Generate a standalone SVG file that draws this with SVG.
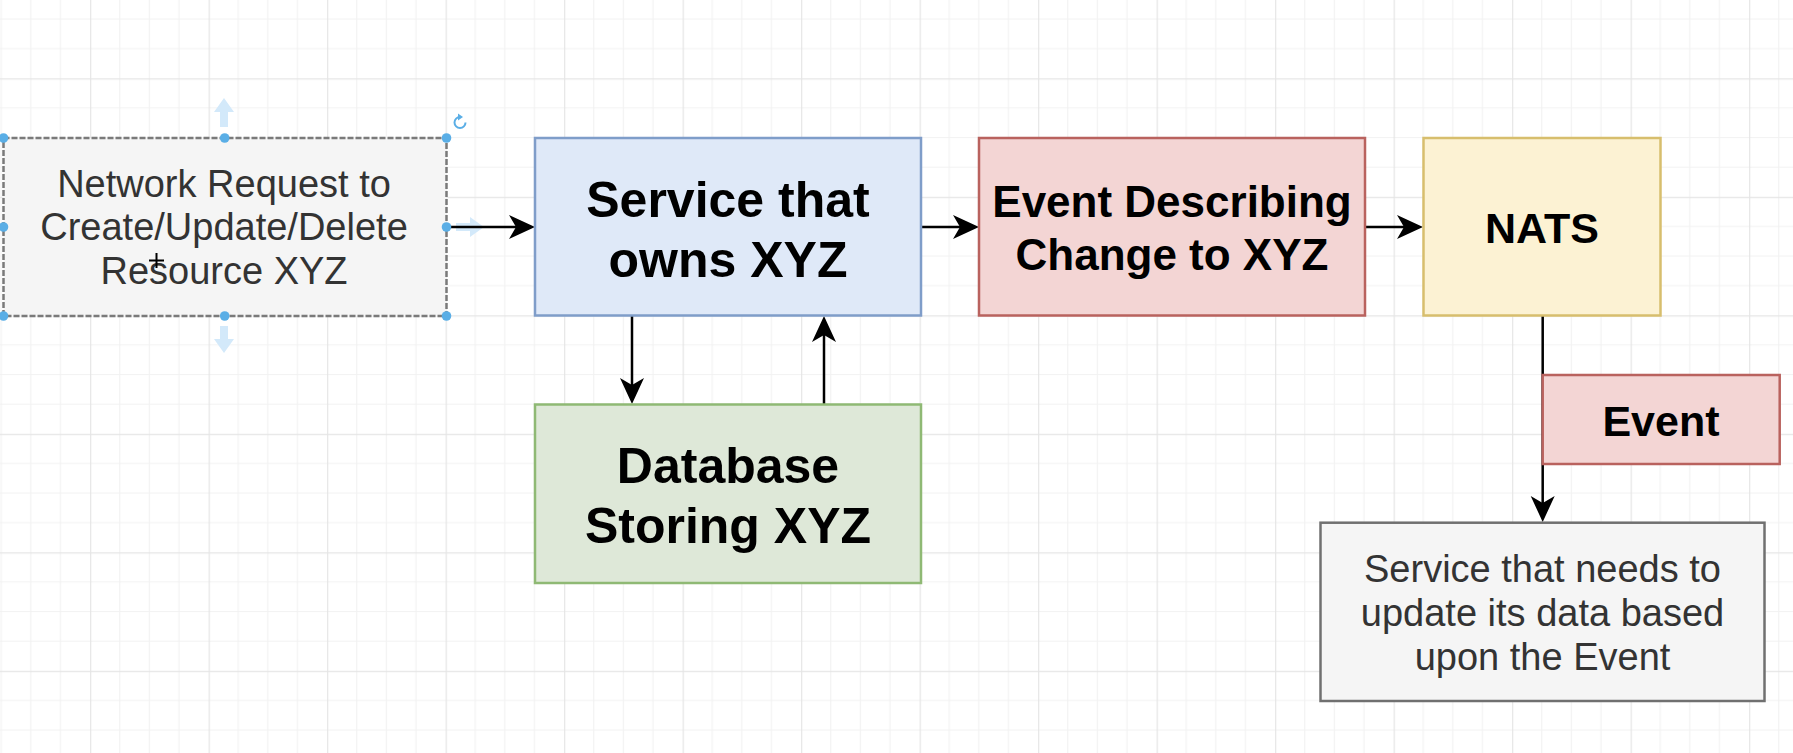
<svg xmlns="http://www.w3.org/2000/svg" width="1793" height="753" viewBox="0 0 1793 753">
<style>
.box{stroke-width:2.5}
.lbl{font-family:"Liberation Sans",Arial,Helvetica,sans-serif;text-anchor:middle}
.reg{fill:#333333}
.bold{font-weight:bold;fill:#000000}
.edge{stroke:#000000;stroke-width:2.5;fill:none}
.handle{fill:#5aaee6}
.hover{fill:#d3e9fa}
</style>
<defs>
<pattern id="grid" patternUnits="userSpaceOnUse" x="90.1" y="78.3" width="118.5" height="118.5">
<path d="M29.625 0V118.5M59.25 0V118.5M88.875 0V118.5M0 29.625H118.5M0 59.25H118.5M0 88.875H118.5" stroke="#f2f2f2" stroke-width="1.2" fill="none"/>
<path d="M0.6 0V118.5M0 0.6H118.5" stroke="#e5e5e5" stroke-width="1.2" fill="none"/>
</pattern>
<marker id="ah" viewBox="-27 -13 28 26" refX="-14" refY="0" markerWidth="28" markerHeight="26" markerUnits="userSpaceOnUse" orient="auto">
<path d="M0,0 L-26,-12 L-19,0 L-26,12 Z" fill="#000000"/>
</marker>
</defs>
<rect width="1793" height="753" fill="#ffffff"/>
<rect width="1793" height="753" fill="url(#grid)"/>

<g id="hover-hints">
<path class="hover" d="M224 98 L234 112 L228 112 L228 127 L220 127 L220 112 L214 112 Z"/>
<path class="hover" d="M224 353 L234 339 L228 339 L228 326 L220 326 L220 339 L214 339 Z"/>
<path class="hover" d="M484 227 L470 217 L470 223 L456 223 L456 231 L470 231 L470 237 Z"/>
</g>

<g id="connectors">
<line class="edge" x1="447" y1="227" x2="521" y2="227" marker-end="url(#ah)"/>
<line class="edge" x1="921" y1="227" x2="965" y2="227" marker-end="url(#ah)"/>
<line class="edge" x1="1365" y1="227" x2="1409" y2="227" marker-end="url(#ah)"/>
<line class="edge" x1="632" y1="316" x2="632" y2="390" marker-end="url(#ah)"/>
<line class="edge" x1="824" y1="404" x2="824" y2="330" marker-end="url(#ah)"/>
<line class="edge" x1="1542.7" y1="316" x2="1542.7" y2="508" marker-end="url(#ah)"/>
</g>

<g id="network-request">
<rect class="box" x="3.5" y="138" width="443" height="178" fill="#f5f5f5" stroke="#7a7a7a" stroke-dasharray="6 2"/>
<text class="lbl reg" font-size="38"><tspan x="224" y="196.7">Network Request to</tspan><tspan x="224" y="240.4">Create/Update/Delete</tspan><tspan x="224" y="284">Resource XYZ</tspan></text>
</g>

<g id="selection-handles">
<circle class="handle" cx="3.5" cy="138" r="4.8"/>
<circle class="handle" cx="224.7" cy="138" r="4.8"/>
<circle class="handle" cx="446.5" cy="138" r="4.8"/>
<circle class="handle" cx="3.5" cy="227" r="4.8"/>
<circle class="handle" cx="446.5" cy="227" r="4.8"/>
<circle class="handle" cx="3.5" cy="316" r="4.8"/>
<circle class="handle" cx="224.7" cy="316" r="4.8"/>
<circle class="handle" cx="446.5" cy="316" r="4.8"/>
<path d="M465.5 122.5 A5.5 5.5 0 1 1 460 117" fill="none" stroke="#5aaee6" stroke-width="2"/>
<path d="M458 113.5 L463 117 L458 120.5 Z" fill="#5aaee6"/>
<path d="M156.5 253 V268 M149 260.5 H164" stroke="#000000" stroke-width="2"/>
</g>

<g id="service-owns">
<rect class="box" x="535" y="138" width="386" height="177.5" fill="#dfe9f8" stroke="#7f9dc9"/>
<text class="lbl bold" font-size="50"><tspan x="728" y="216.7">Service that</tspan><tspan x="728" y="276.7">owns XYZ</tspan></text>
</g>

<g id="database">
<rect class="box" x="535" y="404.5" width="386" height="178.5" fill="#dee8d8" stroke="#8fb974"/>
<text class="lbl bold" font-size="50"><tspan x="728" y="483.3">Database</tspan><tspan x="728" y="543.3">Storing XYZ</tspan></text>
</g>

<g id="event-describing">
<rect class="box" x="979" y="138" width="386" height="177.5" fill="#f3d5d4" stroke="#b9625e"/>
<text class="lbl bold" font-size="44"><tspan x="1172" y="216.7">Event Describing</tspan><tspan x="1172" y="270">Change to XYZ</tspan></text>
</g>

<g id="nats">
<rect class="box" x="1423.5" y="138" width="237" height="177.5" fill="#fcf2d3" stroke="#d7be6d"/>
<text class="lbl bold" font-size="43" x="1542" y="243">NATS</text>
</g>

<g id="event-label">
<rect class="box" x="1542.7" y="375" width="237" height="89" fill="#f3d5d4" stroke="#b9625e"/>
<text class="lbl bold" font-size="43" x="1661" y="436">Event</text>
</g>

<g id="service-needs-update">
<rect class="box" x="1320.5" y="522.7" width="444" height="178.3" fill="#f5f5f5" stroke="#707070"/>
<text class="lbl reg" font-size="38"><tspan x="1542.5" y="581.7">Service that needs to</tspan><tspan x="1542.5" y="626">update its data based</tspan><tspan x="1542.5" y="670">upon the Event</tspan></text>
</g>
</svg>
